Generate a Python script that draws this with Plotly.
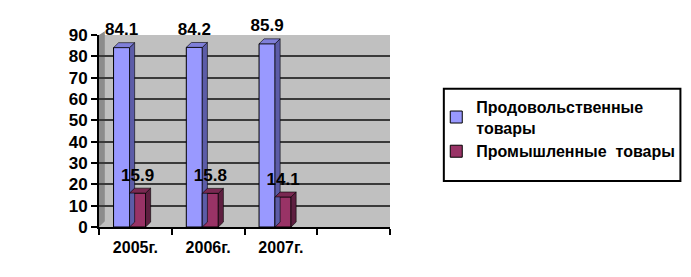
import plotly.graph_objects as go

categories = ["2005г.", "2006г.", "2007г.", ""]
food = [84.1, 84.2, 85.9]
industrial = [15.9, 15.8, 14.1]
series_names = ["Продовольственные<br>товары", "Промышленные  товары"]
y_ticks = [0, 10, 20, 30, 40, 50, 60, 70, 80, 90]

FONT = "Liberation Sans"
BW = 0.22          # bar width in category units
DX = 0.07          # pseudo-3D depth in x (category units)
DY = 2.3           # pseudo-3D depth in y (value units)
LABEL_PAD = 1.5

styles = [
    dict(off=-0.30, front="#9999FF", side="#5C5CA8", top="#7F7FD9"),
    dict(off=-0.08, front="#993366", side="#5E1F40", top="#7A2952"),
]

fig = go.Figure()
xs = list(range(len(food)))

for s, (vals, name) in enumerate(zip([food, industrial], series_names)):
    st = styles[s]
    fig.add_trace(go.Bar(
        x=xs, y=vals, name=name, width=BW, offset=st["off"],
        marker=dict(color=st["front"], line=dict(color="#000000", width=1)),
        showlegend=True,
    ))
    for xi, v in zip(xs, vals):
        xl = xi + st["off"]
        xr = xl + BW
        fig.add_trace(go.Scatter(
            x=[xr, xr + DX, xr + DX, xr, xr], y=[0, DY, v + DY, v, 0],
            fill="toself", fillcolor=st["side"], mode="lines",
            line=dict(color="#000000", width=0.6), showlegend=False, hoverinfo="skip"))
        fig.add_trace(go.Scatter(
            x=[xl, xl + DX, xr + DX, xr, xl], y=[v, v + DY, v + DY, v, v],
            fill="toself", fillcolor=st["top"], mode="lines",
            line=dict(color="#000000", width=0.6), showlegend=False, hoverinfo="skip"))
    fig.add_trace(go.Scatter(
        x=[xi + st["off"] + BW / 2 for xi in xs], y=[v + DY + LABEL_PAD for v in vals],
        text=[f"{v:.1f}" for v in vals], mode="text", textposition="top center",
        textfont=dict(family=FONT, size=17, color="#000000", weight="bold"),
        showlegend=False, hoverinfo="skip", cliponaxis=False))

fig.update_layout(
    width=691, height=277,
    margin=dict(l=99, r=300, t=35, b=50),
    paper_bgcolor="#FFFFFF",
    plot_bgcolor="#C0C0C0",
    barmode="overlay",
    font=dict(family=FONT, size=15, color="#000000", weight="bold"),
    showlegend=True,
    legend=dict(
        x=1.155, y=0.715, xanchor="left", yanchor="top",
        bgcolor="rgba(0,0,0,0)", borderwidth=0,
        font=dict(family=FONT, size=16, color="#000000", weight="bold"),
        tracegroupgap=11, itemwidth=30,
    ),
    xaxis=dict(
        range=[-0.5, 3.5], tickvals=list(range(len(categories))), ticktext=categories,
        ticks="", showgrid=False, zeroline=False,
        showline=True, linecolor="#000000", linewidth=2, ticklabelstandoff=5,
        tickfont=dict(family=FONT, size=16, color="#000000", weight="bold"),
        minor=dict(ticks="outside", tick0=-0.5, dtick=1, ticklen=6, tickwidth=2,
                   tickcolor="#000000", showgrid=False),
    ),
    yaxis=dict(
        range=[0, 90], tickvals=y_ticks, ticks="outside", ticklen=6, tickwidth=2,
        tickcolor="#000000", showgrid=True, gridcolor="#3A3A3A", gridwidth=1.5,
        zeroline=False, showline=True, linecolor="#000000", linewidth=2,
        tickfont=dict(family=FONT, size=17, color="#000000", weight="bold"),
    ),
    shapes=[
        dict(type="path", xref="paper", yref="paper",
             path="M 0 0 L 0.02 0.03 L 0.02 1.02 L 0 1 Z",
             fillcolor="#8C8C8C", line=dict(width=0), layer="below"),
        dict(type="rect", xref="paper", yref="paper",
             x0=1.185, x1=1.998, y0=0.24, y1=0.72,
             line=dict(color="#000000", width=2), fillcolor="rgba(0,0,0,0)"),
    ],
)

fig.write_html("out.html")
